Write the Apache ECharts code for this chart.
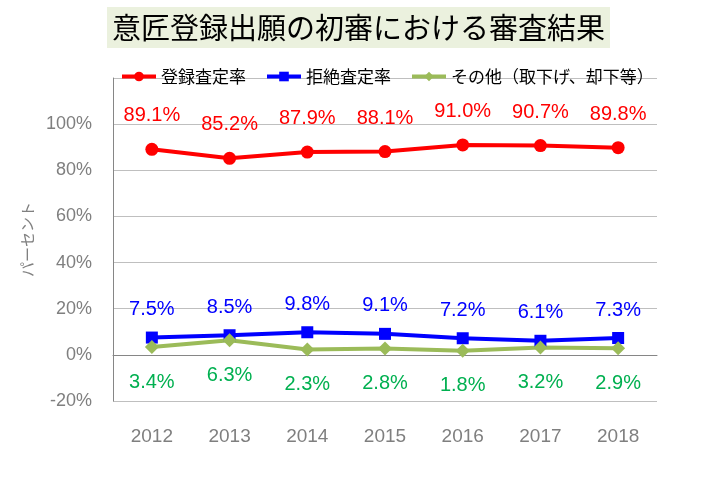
<!DOCTYPE html>
<html><head><meta charset="utf-8">
<script src="https://cdn.jsdelivr.net/npm/echarts@6/dist/echarts.min.js"></script>
<style>html,body{margin:0;padding:0;background:#fff}#c{width:713px;height:483px}</style>
</head><body><div id="c"></div>
<script>
const years = ['2012','2013','2014','2015','2016','2017','2018'];
const registered = [89.1, 85.2, 87.9, 88.1, 91.0, 90.7, 89.8];
const rejected = [7.5, 8.5, 9.8, 9.1, 7.2, 6.1, 7.3];
const other = [3.4, 6.3, 2.3, 2.8, 1.8, 3.2, 2.9];
const seriesNames = ['登録査定率', '拒絶査定率', 'その他（取下げ、却下等）'];
const titleText = '意匠登録出願の初審における審査結果';
const yAxisName = 'パーセント';

const chart = echarts.init(document.getElementById('c'));
const fmt = p => p.value.toFixed(1) + '%';
chart.setOption({
  animation: false,
  title: {
    text: titleText, left: 107, top: 7,
    backgroundColor: '#ebf1de', padding: [3, 5, 3, 5],
    textStyle: {fontFamily: 'Noto Sans CJK JP', fontWeight: 'normal', fontSize: 29, color: '#000', lineHeight: 35}
  },
  legend: {
    left: 118, top: 66, itemWidth: 34, itemHeight: 12, itemGap: 19,
    padding: [2, 2, 2, 2],
    lineStyle: {width: 4},
    textStyle: {fontFamily: 'Noto Sans CJK JP', fontSize: 17, color: '#000'},
    data: seriesNames
  },
  grid: {left: 113, right: 56, top: 78, bottom: 82, containLabel: false, outerBoundsMode: 'none'},
  xAxis: {
    type: 'category', data: years,
    axisLine: {onZero: true, lineStyle: {color: '#868686', width: 1}},
    axisTick: {show: false},
    axisLabel: {color: '#7f7f7f', fontSize: 19, fontFamily: 'Liberation Sans', margin: 26}
  },
  yAxis: {
    type: 'value', min: -20, max: 120, interval: 20,
    name: yAxisName, nameLocation: 'middle', nameRotate: 90, nameGap: 78,
    nameTextStyle: {color: '#808080', fontSize: 15, fontFamily: 'Noto Sans CJK JP'},
    axisLine: {show: true, lineStyle: {color: '#868686'}},
    axisTick: {show: false},
    splitLine: {lineStyle: {color: '#bfbfbf'}},
    axisLabel: {color: '#7f7f7f', fontSize: 18, fontFamily: 'Liberation Sans', margin: 21,
      formatter: v => v === 120 ? '' : v + '%'}
  },
  series: [
    {name: seriesNames[0], type: 'line', data: registered, color: '#ff0000',
      symbol: 'circle', symbolSize: 13, lineStyle: {width: 4},
      label: {show: true, position: 'top', distance: 17, color: '#ff0000', fontSize: 20, fontFamily: 'Liberation Sans', formatter: fmt}},
    {name: seriesNames[1], type: 'line', data: rejected, color: '#0000ff',
      symbol: 'rect', symbolSize: 12, lineStyle: {width: 4},
      label: {show: true, position: 'top', distance: 12, color: '#0000ff', fontSize: 20, fontFamily: 'Liberation Sans', formatter: fmt}},
    {name: seriesNames[2], type: 'line', data: other, color: '#9bbb59',
      symbol: 'diamond', symbolSize: 14, lineStyle: {width: 4},
      label: {show: true, position: 'bottom', distance: 18, color: '#00b050', fontSize: 20, fontFamily: 'Liberation Sans', formatter: fmt}}
  ]
});
</script></body></html>
